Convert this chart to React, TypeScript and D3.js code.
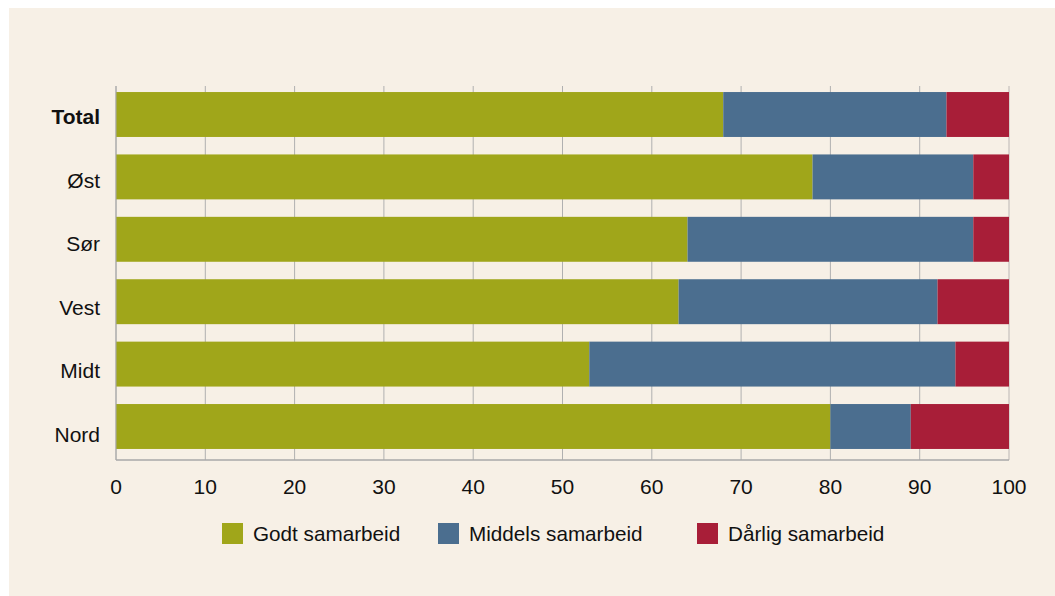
import React from "react";
import * as d3 from "d3";

const categories = ["Total", "Øst", "Sør", "Vest", "Midt", "Nord"];
const godt = [68, 78, 64, 63, 53, 80];
const middels = [25, 18, 32, 29, 41, 9];
const darlig = [7, 4, 4, 8, 6, 11];
const seriesNames = ["Godt samarbeid", "Middels samarbeid", "Dårlig samarbeid"];
const seriesColors = ["#a0a61a", "#4b6e8f", "#a81e38"];
const xTicks = [0, 10, 20, 30, 40, 50, 60, 70, 80, 90, 100];

export default function App() {
  const W = 1055, H = 596;
  const x = d3.scaleLinear().domain([0, 100]).range([116, 1009]);
  const y = d3.scaleBand<string>().domain(categories).range([83.3, 457.7]).paddingInner(0.28).paddingOuter(0.14);
  const yl = d3.scalePoint<string>().domain(categories).range([116.3, 434.5]);
  const rows = categories.map((c, i) => ({ c, vals: [godt[i], middels[i], darlig[i]] }));
  const font = "'Liberation Sans', Arial, sans-serif";
  const legendX = [222, 438, 697];
  return (
    <div style={{ position: "fixed", left: 0, top: 0, width: W, height: H, overflow: "hidden" }}>
      <svg width={W} height={H} style={{ display: "block" }}>
        <rect x={0} y={0} width={W} height={H} fill="#ffffff" />
        <rect x={9} y={8} width={W - 9} height={H - 8} fill="#f7f0e6" />
        {xTicks.map((t) => (
          <line key={t} x1={x(t)} x2={x(t)} y1={86} y2={460}
            stroke={t === 100 ? "#cfcac4" : "#b0b0b0"} strokeWidth={t === 100 ? 1.5 : 1} />
        ))}
        {rows.map((r) => {
          let acc = 0;
          return r.vals.map((v, k) => {
            const x0 = acc;
            acc += v;
            return (
              <rect key={r.c + k} x={x(x0)} y={y(r.c)!} width={x(acc) - x(x0)} height={y.bandwidth()}
                fill={seriesColors[k]} />
            );
          });
        })}
        <line x1={x(0)} x2={x(100)} y1={460} y2={460} stroke="#a8a8a8" strokeWidth={1.5} />
        <line x1={x(0)} x2={x(0)} y1={86} y2={460} stroke="#a8a8a8" strokeWidth={1} />
        {xTicks.map((t) => (
          <text key={"l" + t} x={x(t)} y={494} textAnchor="middle" fontFamily={font} fontSize={21} fill="#111">{t}</text>
        ))}
        {categories.map((c) => (
          <text key={"c" + c} x={100} y={yl(c)!} dy="0.36em" textAnchor="end" fontFamily={font} fontSize={21}
            fontWeight={c === "Total" ? "bold" : "normal"} fill="#111">{c}</text>
        ))}
        {seriesNames.map((s, k) => (
          <g key={s}>
            <rect x={legendX[k]} y={523} width={21} height={21} fill={seriesColors[k]} />
            <text x={legendX[k] + 31} y={533.5} dy="0.36em" fontFamily={font} fontSize={20.7} fill="#111">{s}</text>
          </g>
        ))}
      </svg>
    </div>
  );
}
